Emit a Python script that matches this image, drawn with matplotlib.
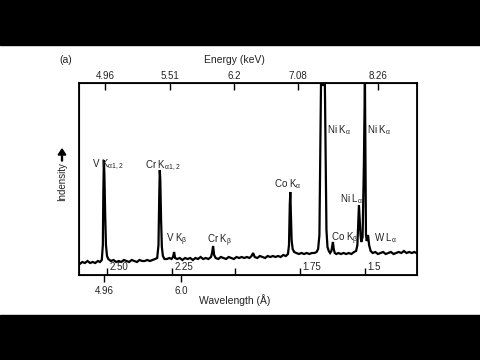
"""X-ray fluorescence spectrum with peak labels (energy on top, wavelength below)."""

import matplotlib
matplotlib.use("Agg")
import matplotlib.pyplot as plt
from matplotlib.patches import Rectangle, FancyArrow
from matplotlib.ticker import FixedLocator, NullFormatter

# spectrum: wavelength (A) and intensity (arb.)
wavelength = [
    2.605, 2.595, 2.585, 2.575, 2.565, 2.555, 2.545, 2.535, 2.527, 2.520,
    2.516, 2.514, 2.512, 2.510, 2.507, 2.504, 2.500, 2.495,
    2.485, 2.475, 2.465, 2.455, 2.445, 2.435, 2.425, 2.415, 2.405, 2.395,
    2.385, 2.375, 2.365, 2.355, 2.345, 2.335, 2.325, 2.315, 2.307,
    2.302, 2.299, 2.297, 2.295, 2.292, 2.289, 2.285, 2.279,
    2.270, 2.260, 2.252, 2.246, 2.242, 2.238, 2.230, 2.220, 2.210, 2.200,
    2.190, 2.180, 2.170, 2.160, 2.150, 2.140, 2.130, 2.120, 2.110, 2.100,
    2.096, 2.092, 2.088, 2.082, 2.072, 2.062, 2.052, 2.042, 2.032, 2.022,
    2.012, 2.002, 1.992, 1.982, 1.972, 1.962, 1.952, 1.944, 1.938, 1.932,
    1.922, 1.912, 1.902, 1.892, 1.882, 1.872, 1.862, 1.852, 1.842, 1.832,
    1.822, 1.812, 1.804,
    1.800, 1.797, 1.795, 1.793, 1.790, 1.786, 1.780, 1.772, 1.762, 1.752,
    1.742, 1.732, 1.722, 1.712, 1.702, 1.694, 1.688,
    1.683, 1.680, 1.677, 1.662, 1.659, 1.656, 1.652, 1.647, 1.642, 1.637,
    1.633, 1.631, 1.628, 1.624, 1.618, 1.610, 1.600, 1.590, 1.580, 1.570,
    1.560, 1.550, 1.542, 1.537,
    1.534, 1.531, 1.528, 1.525, 1.522, 1.517, 1.512, 1.508, 1.506, 1.504,
    1.501, 1.496, 1.492, 1.486, 1.478,
    1.468, 1.458, 1.448, 1.438, 1.428, 1.418, 1.408, 1.398, 1.388, 1.378,
    1.368, 1.358, 1.348, 1.338, 1.328, 1.318, 1.310,
]
intensity = [
    11, 13, 12, 14, 12, 13, 12, 14, 13, 15,
    30, 85, 115, 100, 60, 30, 19, 16,
    14, 15, 13, 14, 13, 15, 14, 13, 15, 14,
    13, 15, 14, 14, 15, 14, 15, 16, 17,
    30, 80, 105, 95, 55, 28, 19, 16,
    16, 17, 16, 18, 23, 17, 16, 17, 15, 17,
    16, 17, 15, 17, 16, 18, 16, 17, 16, 18,
    22, 29, 20, 17, 16, 18, 17, 16, 18, 17,
    16, 18, 17, 18, 17, 18, 17, 19, 22, 18,
    17, 19, 18, 17, 19, 18, 19, 18, 19, 18,
    20, 19, 21,
    30, 70, 83, 65, 35, 26, 23, 22, 21, 22,
    21, 22, 21, 22, 22, 23, 26,
    40, 120, 190, 190, 120, 45, 28, 24, 22, 24,
    30, 33, 26, 22, 21, 22, 21, 22, 21, 22,
    21, 23, 24, 30,
    50, 70, 55, 40, 33, 38, 110, 198, 110, 40,
    34, 40, 30, 24, 22,
    23, 21, 22, 23, 21, 22, 23, 21, 22, 23,
    22, 24, 22, 23, 22, 23, 22,
]

# peak labels: text, wavelength of left edge, intensity of baseline
peak_labels = [r"V K$_{\mathrm{\alpha}1,2}$", r"Cr K$_{\mathrm{\alpha}1,2}$",
               r"V K$_{\mathrm{\beta}}$", r"Cr K$_{\mathrm{\beta}}$",
               r"Co K$_{\mathrm{\alpha}}$", r"Ni K$_{\mathrm{\alpha}}$",
               r"Ni K$_{\mathrm{\alpha}}$", r"Ni L$_{\mathrm{\alpha}}$",
               r"Co K$_{\mathrm{\beta}}$", r"W L$_{\mathrm{\alpha}}$"]
label_wl = [2.558, 2.354, 2.273, 2.115, 1.858, 1.654, 1.500, 1.602, 1.637, 1.473]
label_int = [108, 107, 33, 32, 88, 142, 142, 73, 34, 34]

# axis ticks
energy_pos = [2.5077, 2.2577, 2.0115, 1.7654, 1.4577]
energy_labels = ["4.96", "5.51", "6.2", "7.08", "8.26"]
inner_pos = [2.50, 2.25, 2.008, 1.758, 1.508]
inner_labels = ["2.50", "2.25", "", "1.75", "1.5"]
outer_pos = [2.5115, 2.2154]
outer_labels = ["4.96", "6.0"]


def main():
    plt.rcParams["font.family"] = ["Liberation Sans", "DejaVu Sans"]
    plt.rcParams["mathtext.fontset"] = "custom"
    plt.rcParams["mathtext.rm"] = "Liberation Sans"
    plt.rcParams["mathtext.it"] = "Liberation Sans:italic"
    txt = "#222222"

    fig = plt.figure(figsize=(4.8, 3.6), dpi=100)
    fig.patch.set_facecolor("white")

    # letterbox bars
    fig.add_artist(Rectangle((0, 1 - 45 / 360), 1, 45 / 360,
                             transform=fig.transFigure, color="black", zorder=0))
    fig.add_artist(Rectangle((0, 0), 1, 45 / 360,
                             transform=fig.transFigure, color="black", zorder=0))

    ax = fig.add_axes([79 / 480, 85 / 360, 338 / 480, 192 / 360])
    ax.plot(wavelength, intensity, color="black", linewidth=1.6,
            solid_joinstyle="miter")
    ax.set_xlim(2.6077, 1.3077)
    ax.set_ylim(0, 192)
    for s in ax.spines.values():
        s.set_linewidth(1.3)
        s.set_color("black")

    ax.set_yticks([])
    ax.set_xticks(outer_pos, outer_labels)
    ax.tick_params(axis="x", which="major", direction="out", length=5,
                   width=1, pad=3, labelsize=7, labelcolor=txt)
    ax.xaxis.set_minor_locator(FixedLocator(inner_pos))
    ax.xaxis.set_minor_formatter(NullFormatter())
    ax.tick_params(axis="x", which="minor", direction="in", length=5, width=1)
    for p, lab in zip(inner_pos, inner_labels):
        ax.annotate(lab, xy=(p, 0), xycoords=("data", "axes fraction"),
                    xytext=(2, 2), textcoords="offset points",
                    fontsize=7, color=txt, ha="left", va="bottom")

    top = ax.twiny()
    top.set_xlim(ax.get_xlim())
    top.set_xticks(energy_pos, energy_labels)
    top.tick_params(axis="x", direction="in", length=5, width=1, pad=1.5,
                    labelsize=7, labelcolor=txt)

    for lab, x, y in zip(peak_labels, label_wl, label_int):
        ax.text(x, y, lab, fontsize=7, color=txt, ha="left", va="baseline")

    # titles and labels
    fig.text(59 / 480, 1 - 60 / 360, "(a)", fontsize=7.5, color=txt,
             ha="left", va="center")
    fig.text(234.5 / 480, 1 - 60 / 360, "Energy (keV)", fontsize=7.5,
             color=txt, ha="center", va="center")
    fig.text(235 / 480, 1 - 300.5 / 360, "Wavelength (\u00c5)", fontsize=7.5,
             color=txt, ha="center", va="center")
    fig.text(62 / 480, 1 - 182 / 360, "Indensity", fontsize=7, color=txt,
             rotation=90, ha="center", va="center")
    fig.patches.append(FancyArrow(
        62 / 480, 1 - 161 / 360, 0, 12 / 360, width=0.002,
        head_width=0.016, head_length=6 / 360, length_includes_head=True,
        transform=fig.transFigure, figure=fig, color="black"))

    fig.savefig("out.png", dpi=100, facecolor="white")


if __name__ == "__main__":
    main()
